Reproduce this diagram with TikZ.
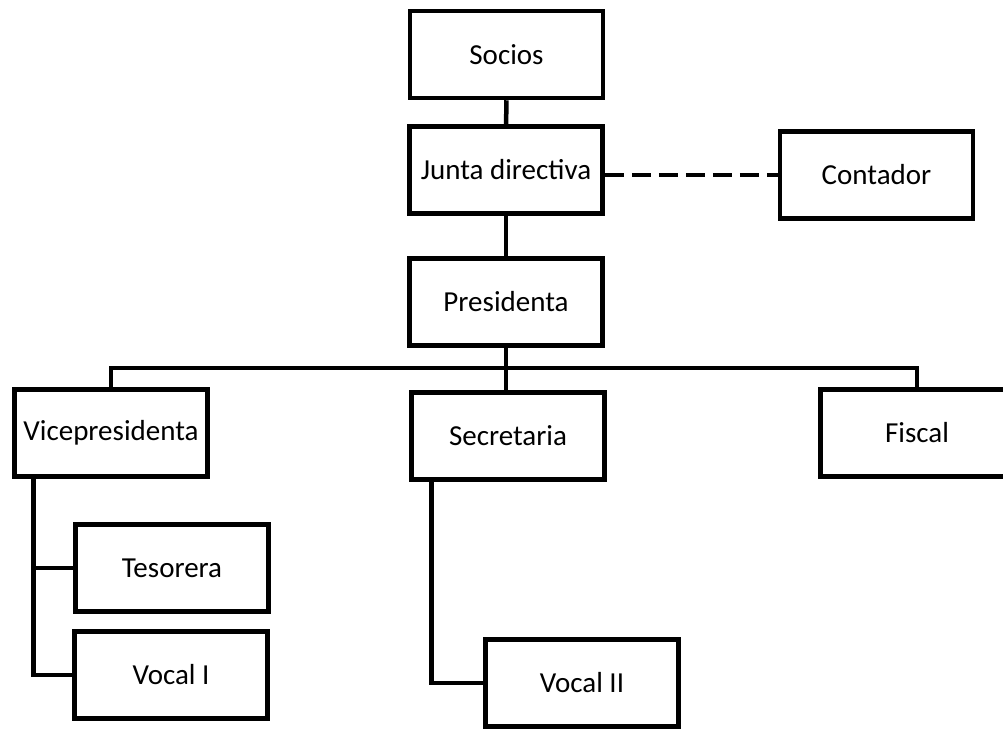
\documentclass[tikz,border=0pt]{standalone}
\usepackage{fontspec}
\setmainfont{Carlito}
\usetikzlibrary{positioning,calc}

\begin{document}
\begin{tikzpicture}[
    x=1pt, y=-1pt,
    box/.style={rectangle,draw,line width=4.5pt,inner sep=0pt,align=center,minimum width=193pt,minimum height=87pt,font=\fontsize{29}{35}\selectfont},
    link/.style={line width=4.5pt},
    dashlink/.style={line width=4.5pt,dash pattern=on 19pt off 8pt}]
    \useasboundingbox (0,0) rectangle (1003,728);
    \node[box] (socios) at (506.5,54.5) {Socios};
    \node[box] (junta) at (506,170) {Junta directiva};
    \node[box] (contador) at (876.5,175) {Contador};
    \node[box] (presi) at (506,302) {Presidenta};
    \node[box] (vice) at (111,433) {Vicepresidenta};
    \node[box] (secre) at (508,436) {Secretaria};
    \node[box] (fiscal) at (917,433) {Fiscal};
    \node[box] (teso) at (172,568) {Tesorera};
    \node[box] (vocal1) at (171,675) {Vocal I};
    \node[box] (vocal2) at (582,683) {Vocal II};
    \coordinate (bus) at (506,368);

    \draw[link] (socios) -- (junta);
    \draw[link] (junta) -- (presi);
    \draw[dashlink] (contador.west -| junta.east) -- (contador.west);
    \draw[link] (presi.south) -- (bus);
    \draw[link] (bus) -| (vice.north);
    \draw[link] (bus) -| (fiscal.north);
    \draw[link] (bus) -- (bus |- secre.north);
    \draw[link] ([xshift=21pt]vice.south west) |- (teso.west);
    \draw[link] ([xshift=21pt]vice.south west) |- (vocal1.west);
    \draw[link] ([xshift=22pt]secre.south west) |- (vocal2.west);
  \end{tikzpicture}
\end{document}
